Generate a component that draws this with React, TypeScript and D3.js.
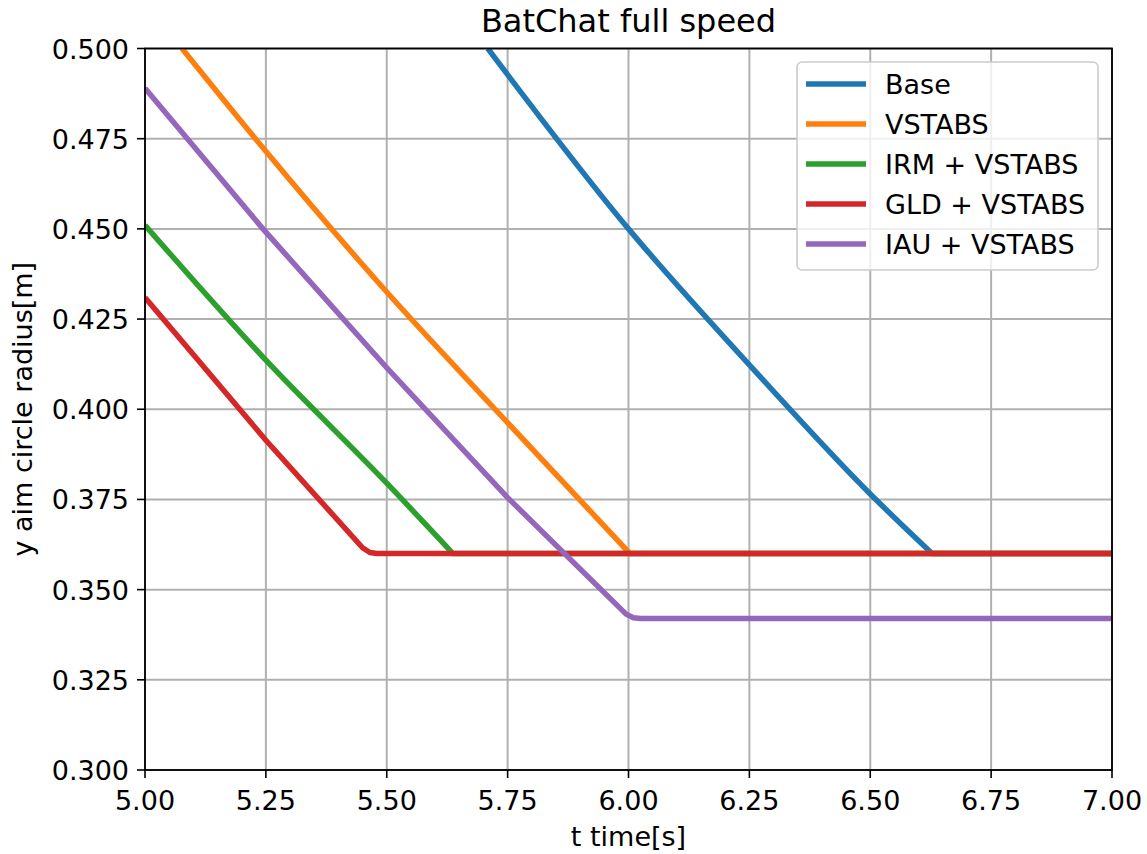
import React from 'react';
import * as d3 from 'd3';

// series (t in s, radius in m)
const baseT = [5.709, 6.0, 6.25, 6.5, 6.628, 7.0];
const baseY = [0.5, 0.45, 0.4123, 0.3765, 0.36, 0.36];

const vstabsT = [5.0765, 5.25, 5.5, 5.724, 6.003, 7.0];
const vstabsY = [0.5, 0.4715, 0.4325, 0.4, 0.36, 0.36];

const irmT = [5.0, 5.25, 5.5, 5.637, 7.0];
const irmY = [0.451, 0.4136, 0.3795, 0.36, 0.36];

const gldT = [5.0, 5.25, 5.45, 5.465, 5.48, 7.0];
const gldY = [0.431, 0.3914, 0.3616, 0.3603, 0.36, 0.36];

const iauT = [5.0, 5.244, 5.5, 5.75, 5.995, 6.01, 6.025, 7.0];
const iauY = [0.489, 0.45, 0.4115, 0.3755, 0.3432, 0.3422, 0.342, 0.342];

const seriesNames = ['Base', 'VSTABS', 'IRM + VSTABS', 'GLD + VSTABS', 'IAU + VSTABS'];
const seriesColors = ['#1f77b4', '#ff7f0e', '#2ca02c', '#d62728', '#9467bd'];

const xTicks = [5.0, 5.25, 5.5, 5.75, 6.0, 6.25, 6.5, 6.75, 7.0];
const yTicks = [0.3, 0.325, 0.35, 0.375, 0.4, 0.425, 0.45, 0.475, 0.5];

const W = 1147;
const H = 854;
const m = { left: 145, right: 1112, top: 48.5, bottom: 770 };
const font = 'DejaVu Sans, sans-serif';

export default function App() {
  const x = d3.scaleLinear().domain([5, 7]).range([m.left, m.right]);
  const y = d3.scaleLinear().domain([0.3, 0.5]).range([m.bottom, m.top]);

  const all = [
    [baseT, baseY],
    [vstabsT, vstabsY],
    [irmT, irmY],
    [gldT, gldY],
    [iauT, iauY],
  ];
  // the last two already carry their rounded corner points
  const smoothed = [true, true, true, false, false];

  const smooth = d3
    .line<[number, number]>()
    .x(d => x(d[0]))
    .y(d => y(d[1]))
    .curve(d3.curveMonotoneX);
  const straight = d3
    .line<[number, number]>()
    .x(d => x(d[0]))
    .y(d => y(d[1]));

  // sloped part smoothed, flat tail straight
  const pathFor = (ts: number[], vs: number[], i: number) => {
    const pts = ts.map((t, j) => [t, vs[j]] as [number, number]);
    if (!smoothed[i]) return straight(pts) || '';
    const flat = vs[vs.length - 1];
    const k = vs.indexOf(flat);
    let d = smooth(pts.slice(0, k + 1)) || '';
    pts.slice(k + 1).forEach(p => {
      d += `L${x(p[0])},${y(p[1])}`;
    });
    return d;
  };

  const legX = 797;
  const legY = 62;
  const rowH = 40;

  return (
    <svg
      width={W}
      height={H}
      style={{ position: 'absolute', left: 0, top: 0, background: '#fff' }}
      fontFamily={font}
    >
      <defs>
        <clipPath id="plot">
          <rect x={m.left} y={m.top} width={m.right - m.left} height={m.bottom - m.top} />
        </clipPath>
      </defs>
      <rect width={W} height={H} fill="#fff" />

      {/* grid */}
      {xTicks.map(t => (
        <line key={'gx' + t} x1={x(t)} x2={x(t)} y1={m.top} y2={m.bottom} stroke="#b0b0b0" strokeWidth={2} />
      ))}
      {yTicks.map(t => (
        <line key={'gy' + t} x1={m.left} x2={m.right} y1={y(t)} y2={y(t)} stroke="#b0b0b0" strokeWidth={2} />
      ))}

      {/* lines */}
      <g clipPath="url(#plot)">
        {all.map(([ts, vs], i) => (
          <path
            key={seriesNames[i]}
            d={pathFor(ts, vs, i)}
            fill="none"
            stroke={seriesColors[i]}
            strokeWidth={5.5}
            strokeLinejoin="round"
          />
        ))}
      </g>

      {/* spines */}
      <rect
        x={m.left}
        y={m.top}
        width={m.right - m.left}
        height={m.bottom - m.top}
        fill="none"
        stroke="#000"
        strokeWidth={1.8}
      />

      {/* ticks */}
      {xTicks.map(t => (
        <g key={'tx' + t}>
          <line x1={x(t)} x2={x(t)} y1={m.bottom} y2={m.bottom + 8} stroke="#000" strokeWidth={1.6} />
          <text x={x(t)} y={m.bottom + 40} textAnchor="middle" fontSize={27}>
            {t.toFixed(2)}
          </text>
        </g>
      ))}
      {yTicks.map(t => (
        <g key={'ty' + t}>
          <line x1={m.left - 8} x2={m.left} y1={y(t)} y2={y(t)} stroke="#000" strokeWidth={1.6} />
          <text x={m.left - 16} y={y(t) + 10} textAnchor="end" fontSize={27}>
            {t.toFixed(3)}
          </text>
        </g>
      ))}

      {/* labels */}
      <text x={(m.left + m.right) / 2} y={32} textAnchor="middle" fontSize={32}>
        BatChat full speed
      </text>
      <text x={(m.left + m.right) / 2} y={846} textAnchor="middle" fontSize={27}>
        t time[s]
      </text>
      <text
        transform={`translate(32, ${(m.top + m.bottom) / 2}) rotate(-90)`}
        textAnchor="middle"
        fontSize={27}
      >
        y aim circle radius[m]
      </text>

      {/* legend */}
      <rect
        x={legX}
        y={legY}
        width={301}
        height={208}
        rx={5}
        fill="#fff"
        fillOpacity={0.8}
        stroke="#cccccc"
        strokeWidth={1.6}
      />
      {seriesNames.map((n, i) => (
        <g key={'leg' + n}>
          <line
            x1={806}
            x2={866}
            y1={legY + 22 + i * rowH}
            y2={legY + 22 + i * rowH}
            stroke={seriesColors[i]}
            strokeWidth={5.5}
          />
          <text x={885} y={legY + 32 + i * rowH} fontSize={27}>
            {n}
          </text>
        </g>
      ))}
    </svg>
  );
}
